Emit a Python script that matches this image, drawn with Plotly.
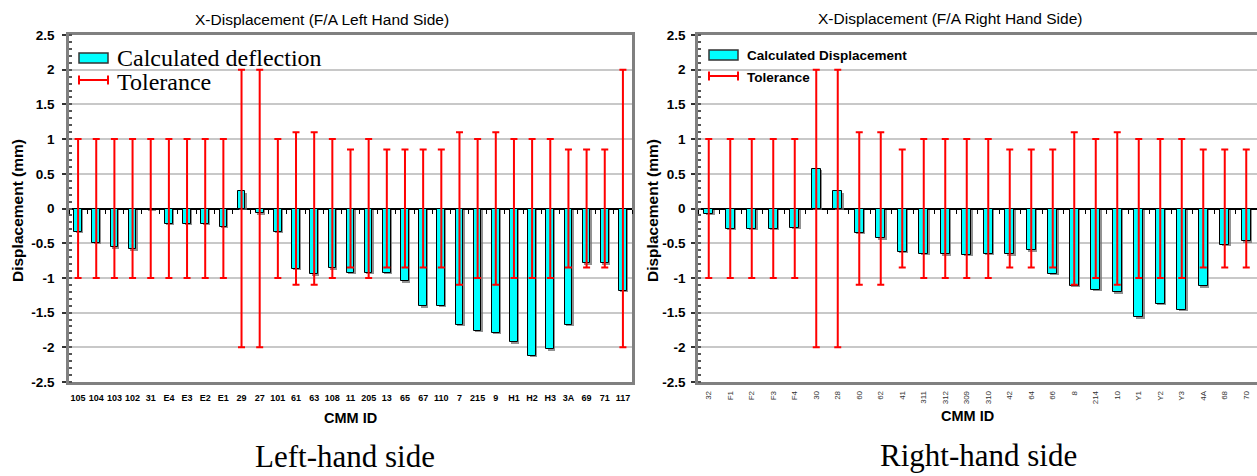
import plotly.graph_objects as go

# ---------------- data ----------------
left_ids = ["105", "104", "103", "102", "31", "E4", "E3", "E2", "E1", "29", "27", "101",
            "61", "63", "108", "11", "205", "13", "65", "67", "110", "7", "215", "9", "H1", "H2", "H3",
            "3A", "69", "71", "117"]
left_defl = [-0.34, -0.49, -0.56, -0.59, -0.02, -0.22, -0.22, -0.22, -0.26, 0.25, -0.07, -0.34,
             -0.87, -0.95, -0.86, -0.93, -0.93, -0.93, -1.05, -1.41, -1.40, -1.68, -1.76, -1.79,
             -1.93, -2.12, -2.03, -1.68, -0.79, -0.79, -1.19]
left_tol = [1.0, 1.0, 1.0, 1.0, 1.0, 1.0, 1.0, 1.0, 1.0, 2.0, 2.0, 1.0, 1.1, 1.1, 1.0, 0.85, 1.0,
            0.85, 0.85, 0.85, 0.85, 1.1, 1.0, 1.1, 1.0, 1.0, 1.0, 0.85, 0.85, 0.85, 2.0]

right_ids = ["32", "F1", "F2", "F3", "F4", "30", "28", "60", "62", "41", "311", "312", "309", "310",
             "42", "64", "66", "8", "214", "10", "Y1", "Y2", "Y3", "4A", "68", "70"]
right_disp = [-0.08, -0.29, -0.29, -0.29, -0.28, 0.57, 0.25, -0.35, -0.43, -0.62, -0.65, -0.66,
              -0.67, -0.65, -0.66, -0.60, -0.94, -1.11, -1.17, -1.21, -1.57, -1.37, -1.46, -1.12,
              -0.52, -0.47]
right_tol = [1.0, 1.0, 1.0, 1.0, 1.0, 2.0, 2.0, 1.1, 1.1, 0.85, 1.0, 1.0, 1.0, 1.0, 0.85, 0.85,
             0.85, 1.1, 1.0, 1.1, 1.0, 1.0, 1.0, 0.85, 0.85, 0.85]

y_tick_vals = [2.5, 2, 1.5, 1, 0.5, 0, -0.5, -1, -1.5, -2, -2.5]
y_tick_text = ["2.5", "2", "1.5", "1", "0.5", "0", "-0.5", "-1", "-1.5", "-2", "-2.5"]

left_title = "X-Displacement (F/A Left Hand Side)"
right_title = "X-Displacement (F/A Right Hand Side)"
y_title = "Displacement (mm)"
x_title = "CMM ID"
left_caption = "Left-hand side"
right_caption = "Right-hand side"
left_legend = ["Calculated deflection", "Tolerance"]
right_legend = ["Calculated Displacement", "Tolerance"]

# ---------------- layout helpers ----------------
W, H = 1257, 476
def px(x):
    return x / W
def py(y):
    return 1 - y / H

SANS = "Liberation Sans, Arial, sans-serif"
SERIF = "Liberation Serif, Times New Roman, serif"
CYAN = "#00FFFF"
RED = "#FF0000"
GRID = "#C8C8C8"
FRAME = "#808080"

LX = [px(69), px(632)]
RX = [px(698), px(1257)]
YD = [py(382), py(35)]
zero_pos = (YD[0] + YD[1]) / 2

fig = go.Figure()

def add_chart(ids, vals, tol, xa, ya, xz, bw):
    n = len(ids)
    # shadow
    fig.add_trace(go.Bar(x=ids, y=vals, base=-0.02, width=bw, offset=-bw / 2 + 0.07,
                         marker=dict(color="rgba(110,110,110,0.75)", line=dict(width=0)),
                         xaxis=xa, yaxis=ya, showlegend=False, hoverinfo="skip"))
    fig.add_trace(go.Bar(x=ids, y=vals, width=bw, offset=-bw / 2,
                         marker=dict(color=CYAN, line=dict(color="black", width=1)),
                         xaxis=xa, yaxis=ya, showlegend=False))
    fig.add_trace(go.Scatter(x=ids, y=[0] * n, mode="markers",
                             marker=dict(size=1, color="rgba(0,0,0,0)"),
                             error_y=dict(type="data", array=tol, symmetric=True, color=RED,
                                          thickness=2, width=3.5),
                             xaxis=xz, yaxis=ya, showlegend=False, hoverinfo="skip"))

add_chart(left_ids, left_defl, left_tol, "x", "y", "x3", 0.42)
add_chart(right_ids, right_disp, right_tol, "x2", "y2", "x4", 0.42)

def xbase(domain, ids, anchor, tickfont, angle, standoff):
    return dict(domain=domain, type="category", categoryorder="array", categoryarray=ids,
                range=[-0.5, len(ids) - 0.5], anchor=anchor, showline=True, linecolor=FRAME,
                linewidth=2.5, mirror=True, ticks="", showgrid=False, tickfont=tickfont,
                tickangle=angle, fixedrange=True, automargin=False,
                ticklabelstandoff=standoff)

def xzero(ids, overlay):
    return dict(type="category", categoryorder="array", categoryarray=ids,
                range=[-0.5, len(ids) - 0.5], overlaying=overlay, anchor="free",
                position=zero_pos, showticklabels=False, ticks="outside", tickson="boundaries",
                ticklen=4, tickcolor="black", tickwidth=1, showline=False, showgrid=False,
                automargin=False)

def ybase(anchor, standoff):
    return dict(domain=YD, range=[-2.5, 2.5], anchor=anchor, tickvals=y_tick_vals,
                ticktext=y_tick_text, showgrid=True, gridcolor=GRID, gridwidth=1.5,
                zeroline=True, zerolinecolor="black", zerolinewidth=1.5,
                ticks="outside", ticklen=4, tickcolor="#333333", tickwidth=1.5,
                minor=dict(ticks="inside", dtick=0.1, ticklen=3, tickcolor="#555555",
                           showgrid=False),
                showline=True, linecolor=FRAME, linewidth=2.5, mirror=True,
                tickfont=dict(family=SANS, size=13.5, color="black", weight="bold"),
                ticklabelstandoff=standoff,
                fixedrange=True, automargin=False)

fig.update_layout(
    width=W, height=H, margin=dict(l=0, r=0, t=0, b=0, pad=0, autoexpand=False),
    autosize=False,
    paper_bgcolor="white", plot_bgcolor="white", barmode="overlay", bargap=0,
    showlegend=False,
    xaxis=xbase(LX, left_ids, "y", dict(family=SANS, size=9, color="black", weight="bold"), 0, 5),
    xaxis2=xbase(RX, right_ids, "y2", dict(family=SANS, size=8, color="#333333"), -90, 3),
    xaxis3=xzero(left_ids, "x"),
    xaxis4=xzero(right_ids, "x2"),
    yaxis=ybase("x", 5),
    yaxis2=ybase("x2", 3),
)

ann = []
def text(t, x, y, size, family=SANS, bold=False, angle=0, xanchor="center", color="black"):
    ann.append(dict(text=t, x=px(x), y=py(y), xref="paper", yref="paper", showarrow=False,
                    xanchor=xanchor, yanchor="middle", textangle=angle,
                    font=dict(family=family, size=size, color=color,
                              weight="bold" if bold else "normal")))

text(left_title, 322, 20, 15.5)
text(right_title, 950, 19, 15.5)
text(y_title, 17, 211, 15.5, bold=True, angle=-90)
text(y_title, 652, 211, 15.5, bold=True, angle=-90)
text(x_title, 350, 418, 14.5, bold=True)
text(x_title, 967, 416, 14.5, bold=True)
text(left_caption, 345, 456, 31, family=SERIF)
text(right_caption, 978, 455, 31, family=SERIF)

shapes = []
def legend(x0, x1, ys, yt, labels, size, family, bold):
    shapes.append(dict(type="rect", xref="paper", yref="paper", x0=px(x0), x1=px(x1),
                       y0=py(ys + 5), y1=py(ys - 5), fillcolor=CYAN,
                       line=dict(color="#333333", width=1.5)))
    shapes.append(dict(type="line", xref="paper", yref="paper", x0=px(x0), x1=px(x1),
                       y0=py(yt), y1=py(yt), line=dict(color=RED, width=2)))
    for xx in (x0, x1):
        shapes.append(dict(type="line", xref="paper", yref="paper", x0=px(xx), x1=px(xx),
                           y0=py(yt - 4.5), y1=py(yt + 4.5), line=dict(color=RED, width=2)))
    text(labels[0], x1 + 7, ys, size, family=family, bold=bold, xanchor="left")
    text(labels[1], x1 + 7, yt + 2, size, family=family, bold=bold, xanchor="left")

legend(79, 108, 58, 80, left_legend, 24, SERIF, False)
legend(709, 738, 55, 76, right_legend, 13.5, SANS, True)

fig.update_layout(annotations=ann, shapes=shapes)
fig.write_html("out.html", config={"displayModeBar": False, "responsive": False},
               post_script="document.body.style.margin='0';document.body.style.overflow='hidden';")
